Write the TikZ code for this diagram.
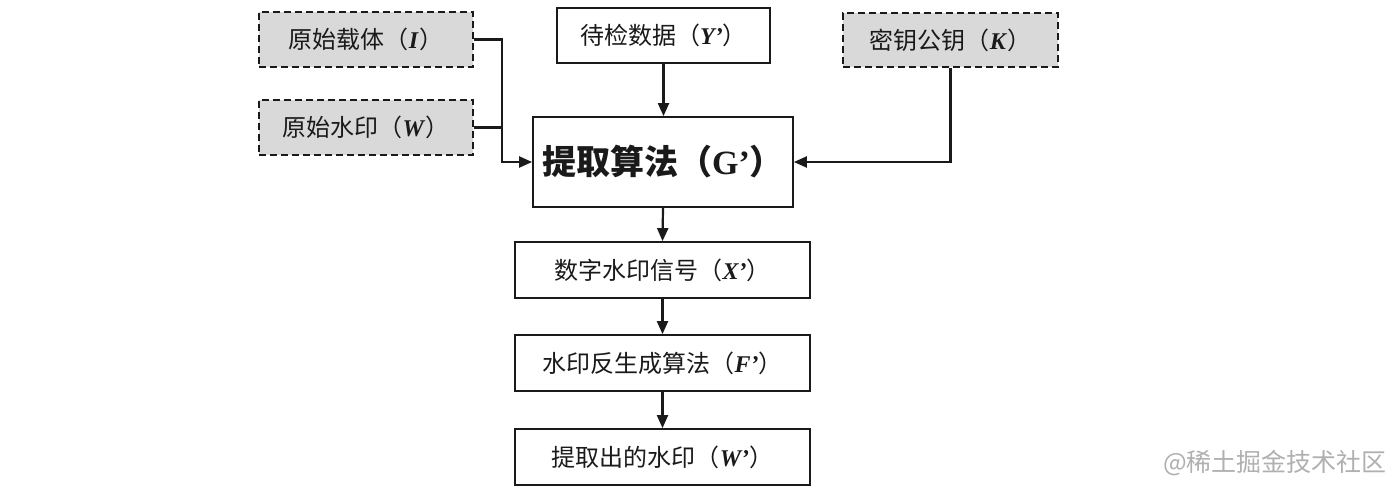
\documentclass[tikz,border=0pt]{standalone}
\usepackage{fontspec}
\setmainfont{Liberation Serif}
\newfontfamily\cjk{Noto Sans CJK SC}
\usetikzlibrary{arrows.meta}
\definecolor{boxgray}{HTML}{D9D9D9}
\definecolor{linecol}{HTML}{1A1A1A}
\definecolor{wmgray}{HTML}{B0B0B0}
\tikzset{
  plainbox/.style={draw=linecol, line width=1.8pt, fill=white, rectangle, inner sep=0pt,
    font=\fontsize{24}{27}\selectfont, text=linecol},
  graybox/.style={draw=linecol, line width=1.8pt, dash pattern=on 7pt off 4pt, fill=boxgray,
    rectangle, inner sep=0pt, font=\fontsize{24}{27}\selectfont, text=linecol},
  conn/.style={draw=linecol, line width=2.2pt},
  arr/.style={conn, -{Triangle[length=13pt,width=11pt]}},
}
\newcommand{\lt}[1]{\textbf{\textit{#1}}}
\begin{document}
\begin{tikzpicture}[x=1pt,y=-1pt]
\useasboundingbox (0,0) rectangle (1400,492);
\fill[white] (0,0) rectangle (1400,492);

\node[graybox, minimum width=214pt, minimum height=55pt] (I) at (366,39.5)
  {{\cjk 原始载体（}\lt{I}{\cjk ）}};
\node[graybox, minimum width=214pt, minimum height=55pt] (W) at (366,127.5)
  {{\cjk 原始水印（}\lt{W}{\cjk ）}};
\node[plainbox, minimum width=213pt, minimum height=55pt] (Y) at (663.5,35.5)
  {{\cjk 待检数据（}\lt{Y’}{\cjk ）}};
\node[graybox, minimum width=215pt, minimum height=54pt] (K) at (950.5,40)
  {{\cjk 密钥公钥（}\lt{K}{\cjk ）}};
\node[plainbox, minimum width=260pt, minimum height=90pt,
  font=\fontsize{34}{38}\selectfont\bfseries] (G) at (663,162)
  {{\cjk\bfseries 提取算法（}G’{\cjk\bfseries ）}};
\node[plainbox, minimum width=295pt, minimum height=56pt] (X) at (662.5,270)
  {{\cjk 数字水印信号（}\lt{X’}{\cjk ）}};
\node[plainbox, minimum width=295pt, minimum height=56pt] (F) at (662.5,363)
  {{\cjk 水印反生成算法（}\lt{F’}{\cjk ）}};
\node[plainbox, minimum width=295pt, minimum height=56pt] (Wp) at (662.5,457)
  {{\cjk 提取出的水印（}\lt{W’}{\cjk ）}};

\coordinate (jx) at (502,0);
\draw[arr] (I.east) -- (I.east -| jx) -- (G.west -| jx) -- (G.west);
\draw[conn] (W.east) -- (W.east -| jx);
\draw[arr] (Y.south) -- (Y.south |- G.north);
\draw[arr] (K.south) -- (K.south |- G.east) -- (G.east);
\draw[arr] (G.south) -- (X.north);
\draw[arr] (X.south) -- (F.north);
\draw[arr] (F.south) -- (Wp.north);

\node[anchor=east, inner sep=0pt, text=wmgray, font=\cjk\fontsize{25}{28}\selectfont] (wm) at (1387,463) {@稀土掘金技术社区};
\end{tikzpicture}
\end{document}
